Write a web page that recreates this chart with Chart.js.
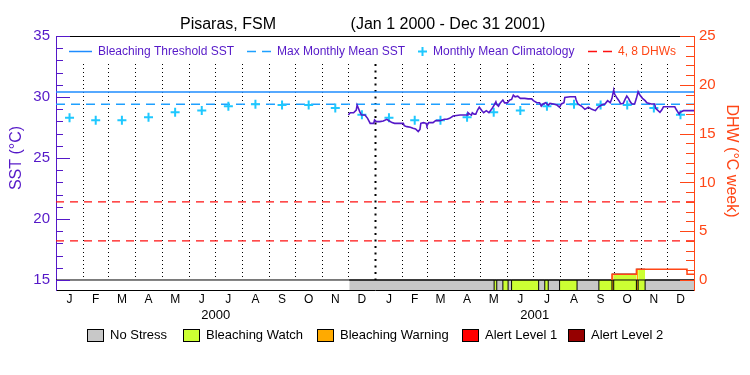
<!DOCTYPE html>
<html>
<head>
<meta charset="utf-8">
<script src="https://cdn.jsdelivr.net/npm/chart.js@4.4.0/dist/chart.umd.min.js"></script>
<style>
  html, body { margin: 0; padding: 0; background: #fff; }
</style>
</head>
<body>
<canvas id="grafico" width="750" height="375"></canvas>
<script>
//INICIO datos del gráfico
var meses = ['J', 'F', 'M', 'A', 'M', 'J', 'J', 'A', 'S', 'O', 'N', 'D'];
var anios = ['2000', '2001'];
var sstTicks = [15, 20, 25, 30, 35];
var dhwTicks = [0, 5, 10, 15, 20, 25];

// climatología mensual (°C), igual para los dos años
var climatologia = [28.3, 28.1, 28.1, 28.35, 28.75, 28.9, 29.25, 29.4, 29.35, 29.35, 29.1, 28.55];
var mmm = 29.4;      // Max Monthly Mean SST
var umbral = 30.4;   // Bleaching Threshold SST
var lineasDhw = [4, 8];

// SST satelital: días desde el 1 ene 2000
var sstDias = [
  335, 337, 341, 344, 345, 348, 350, 354, 357, 360,
  364, 365, 367, 371, 375, 379, 382, 385, 388, 398,
  399, 402, 406, 409, 412, 415, 417, 418, 421, 424,
  425, 427, 432, 435, 440, 445, 448, 451, 455, 463,
  471, 472, 474, 476, 477, 479, 481, 483, 485, 488,
  490, 493, 496, 499, 502, 504, 505, 507, 509, 512,
  514, 517, 520, 522, 524, 526, 529, 532, 535, 537,
  541, 545, 547, 551, 554, 556, 558, 561, 564, 566,
  570, 574, 577, 579, 582, 583, 589, 595, 596, 598,
  602, 606, 610, 614, 618, 621, 625, 629, 632, 635,
  637, 639, 640, 643, 645, 647, 650, 652, 654, 656,
  658, 660, 663, 665, 667, 669, 672, 675, 677, 682,
  686, 687, 692, 694, 696, 709, 711, 714, 715, 719,
  731
];
var sstValores = [
  28.52, 28.71, 28.71, 28.93, 29.34, 28.80, 28.52, 28.52, 28.25, 27.84,
  27.84, 28.11, 27.98, 27.98, 28.03, 28.17, 28.03, 27.90, 27.84, 27.84,
  27.65, 27.57, 27.52, 27.43, 27.38, 27.16, 27.35, 27.84, 27.90, 27.84,
  27.65, 27.90, 27.90, 28.06, 28.06, 28.17, 28.17, 28.25, 28.44, 28.52,
  28.52, 28.71, 28.60, 28.52, 28.71, 28.60, 28.60, 28.93, 29.16, 28.88,
  28.71, 28.88, 28.71, 28.99, 29.34, 29.61, 29.39, 29.25, 29.52, 29.75,
  29.52, 29.52, 29.75, 29.80, 30.16, 30.02, 30.07, 29.89, 29.90, 29.89,
  29.85, 29.85, 29.70, 29.53, 29.53, 29.26, 29.43, 29.53, 29.34, 29.48,
  29.43, 29.34, 29.16, 29.43, 29.53, 29.97, 30.02, 30.02, 29.75, 29.43,
  29.26, 28.99, 29.16, 28.99, 28.88, 29.16, 29.34, 29.43, 29.70, 29.53,
  29.89, 30.57, 30.24, 29.89, 29.70, 29.43, 29.48, 29.80, 30.08, 29.89,
  29.61, 29.43, 29.43, 29.89, 30.43, 30.16, 29.89, 29.70, 29.53, 29.43,
  29.43, 29.07, 28.75, 28.93, 29.20, 29.20, 28.93, 28.60, 28.75, 28.88,
  28.88
];

// DHW (°C semana), escalonado; antes del primer día vale 0
var dhwDias = [637, 665, 723];
var dhwValores = [0.6, 1.1, 0.6];

// franja de estrés: día de inicio y nivel de cada tramo
var estresInicio = [336, 502, 505, 512, 518, 522, 553, 560, 564, 577, 597, 622, 637, 639, 665, 667, 675];
var estresNivel = [0, 1, 0, 1, 0, 1, 0, 1, 0, 1, 0, 1, 2, 1, 2, 1, 0];
var nivelesNombre = ['No Stress', 'Bleaching Watch', 'Bleaching Warning', 'Alert Level 1', 'Alert Level 2'];
//FIN datos del gráfico

var fin = 731;
var sstMin = 14.18;   // deja sitio a la franja bajo los 15 °C
var dhwMin = -1.025;
var colorSst = '#5518c8';
var colorDhw = '#ff4616';
var fuente = '"Liberation Sans", Arial, sans-serif';
var nivelesColor = ['#c8c8c8', '#ccff33', '#ffaa00', '#ff0000', '#960000'];

// inicio de cada mes (días desde el 1 ene 2000)
var inicioMes = [];
for (var a = 2000; a <= 2001; a++) {
  for (var m = 0; m < 12; m++) {
    inicioMes.push((Date.UTC(a, m, 1) - Date.UTC(2000, 0, 1)) / 864e5);
  }
}
inicioMes.push(fin);
var mitadMes = [];
for (var k = 0; k < 24; k++) mitadMes.push((inicioMes[k] + inicioMes[k + 1]) / 2);

function dhwEn(dia) {
  var v = 0;
  for (var i = 0; i < dhwDias.length; i++) if (dhwDias[i] <= dia) v = dhwValores[i];
  return v;
}

// tramos de la franja, un dataset por nivel
var datasetsEstres = nivelesNombre.map(function (nombre, nivel) {
  var puntos = [];
  estresInicio.forEach(function (ini, i) {
    if (estresNivel[i] !== nivel) return;
    var fn = i + 1 < estresInicio.length ? estresInicio[i + 1] : fin;
    var alto = nivel > 0 ? dhwEn(ini) : 0;
    puntos.push({ x: ini, y: alto }, { x: fn, y: alto }, { x: fn, y: null });
  });
  return {
    label: nombre, data: puntos, yAxisID: 'y2',
    backgroundColor: nivelesColor[nivel], borderColor: '#000', borderWidth: 1,
    pointRadius: 0, fill: 'start', spanGaps: false, order: 10 + nivel,
  };
});

var separadores = [];
estresInicio.slice(1).forEach(function (d) {
  separadores.push({ x: d, y: dhwMin }, { x: d, y: 0 }, { x: d, y: null });
});

var puntosDhw = [{ x: dhwDias[0], y: 0 }];
dhwDias.forEach(function (d, i) {
  var sig = i + 1 < dhwDias.length ? dhwDias[i + 1] : fin;
  puntosDhw.push({ x: d, y: dhwValores[i] }, { x: sig, y: dhwValores[i] });
});

var puntosClima = mitadMes.map(function (d, i) {
  return { x: d, y: climatologia[i % 12] };
});

var datasets = datasetsEstres.concat([
  {
    label: 'base', data: [{ x: 0, y: 0 }, { x: fin, y: 0 }], yAxisID: 'y2',
    borderColor: '#000', borderWidth: 1, pointRadius: 0, order: 5,
  },
  {
    label: 'sep', data: separadores, yAxisID: 'y2', spanGaps: false,
    borderColor: '#000', borderWidth: 1, pointRadius: 0, order: 4,
  },
  {
    label: 'Bleaching Threshold SST', data: [{ x: 0, y: umbral }, { x: fin, y: umbral }], yAxisID: 'y',
    borderColor: '#1e8cff', borderWidth: 1.5, pointRadius: 0, order: 3,
  },
  {
    label: 'Max Monthly Mean SST', data: [{ x: 0, y: mmm }, { x: fin, y: mmm }], yAxisID: 'y',
    borderColor: '#1ea0ff', borderWidth: 1.5, borderDash: [9, 6], pointRadius: 0, order: 3,
  },
  {
    label: 'Monthly Mean Climatology', data: puntosClima, yAxisID: 'y', showLine: false,
    pointStyle: 'cross', pointRadius: 4.5, borderColor: '#1ec8ff', pointBorderWidth: 2, order: 2,
  },
  {
    label: 'SST', data: sstDias.map(function (d, i) { return { x: d, y: sstValores[i] }; }), yAxisID: 'y',
    borderColor: colorSst, borderWidth: 1.6, pointRadius: 0, order: 1,
  },
  {
    label: 'DHW', data: puntosDhw, yAxisID: 'y2',
    borderColor: colorDhw, borderWidth: 1.5, pointRadius: 0, order: 0,
  },
]);
lineasDhw.forEach(function (v) {
  datasets.push({
    label: 'DHW ' + v, data: [{ x: 0, y: v }, { x: fin, y: v }], yAxisID: 'y2',
    borderColor: '#ff1010', borderWidth: 1.2, borderDash: [8, 6], pointRadius: 0, order: 3,
  });
});

//INICIO plugin de adornos (líneas punteadas, marcas interiores, leyendas, títulos)
var adornos = {
  id: 'adornos',
  beforeDatasetsDraw: function (chart) {
    var ctx = chart.ctx, area = chart.chartArea, sx = chart.scales.x;
    var base = chart.scales.y2.getPixelForValue(0);
    ctx.save();
    ctx.strokeStyle = '#000';
    inicioMes.forEach(function (d) {
      if (d <= 0 || d >= fin) return;
      var px = Math.round(sx.getPixelForValue(d)) + 0.5;
      var grueso = d === 366;
      ctx.lineWidth = grueso ? 2 : 1;
      ctx.setLineDash(grueso ? [2, 4.5] : [1, 3]);
      ctx.beginPath();
      ctx.moveTo(px, area.top + 28);
      ctx.lineTo(px, base);
      ctx.stroke();
    });
    ctx.restore();
  },
  afterDraw: function (chart) {
    var ctx = chart.ctx, area = chart.chartArea;
    var ys = chart.scales.y, yd = chart.scales.y2;
    ctx.save();
    // borde superior
    ctx.strokeStyle = '#000';
    ctx.lineWidth = 1;
    ctx.beginPath();
    ctx.moveTo(area.left, area.top + 0.5);
    ctx.lineTo(area.right, area.top + 0.5);
    ctx.stroke();

    // marcas hacia dentro
    ctx.strokeStyle = colorSst;
    ys.ticks.forEach(function (t) {
      var py = Math.round(ys.getPixelForValue(t.value)) + 0.5;
      var largo = t.value % 5 === 0 ? 14 : 7;
      ctx.beginPath(); ctx.moveTo(area.left, py); ctx.lineTo(area.left + largo, py); ctx.stroke();
    });
    ctx.strokeStyle = colorDhw;
    yd.ticks.forEach(function (t) {
      var py = Math.round(yd.getPixelForValue(t.value)) + 0.5;
      var largo = t.value % 5 === 0 ? 14 : 8;
      ctx.beginPath(); ctx.moveTo(area.right, py); ctx.lineTo(area.right - largo, py); ctx.stroke();
    });

    // título
    ctx.fillStyle = '#000';
    ctx.font = '16px ' + fuente;
    ctx.textAlign = 'center';
    ctx.textBaseline = 'alphabetic';
    ctx.fillText('Pisaras, FSM', 228, 29);
    ctx.fillText('(Jan 1 2000 - Dec 31 2001)', 448, 29);

    // leyenda superior
    var ly = area.top + 15.5;
    var x0 = area.left;
    ctx.lineWidth = 1.5;
    ctx.strokeStyle = '#1e8cff';
    ctx.beginPath(); ctx.moveTo(x0 + 13, ly); ctx.lineTo(x0 + 36, ly); ctx.stroke();
    ctx.strokeStyle = '#1ea0ff';
    ctx.setLineDash([9, 6]);
    ctx.beginPath(); ctx.moveTo(x0 + 191, ly); ctx.lineTo(x0 + 216, ly); ctx.stroke();
    ctx.strokeStyle = '#ff1010';
    ctx.beginPath(); ctx.moveTo(x0 + 532, ly); ctx.lineTo(x0 + 557, ly); ctx.stroke();
    ctx.setLineDash([]);
    ctx.strokeStyle = '#1ec8ff';
    ctx.lineWidth = 2;
    ctx.beginPath();
    ctx.moveTo(x0 + 362, ly); ctx.lineTo(x0 + 371, ly);
    ctx.moveTo(x0 + 366.5, ly - 4.5); ctx.lineTo(x0 + 366.5, ly + 4.5);
    ctx.stroke();

    ctx.font = '12px ' + fuente;
    ctx.textAlign = 'left';
    ctx.textBaseline = 'middle';
    ctx.fillStyle = colorSst;
    ctx.fillText('Bleaching Threshold SST', x0 + 42, ly);
    ctx.fillText('Max Monthly Mean SST', x0 + 221, ly);
    ctx.fillText('Monthly Mean Climatology', x0 + 377, ly);
    ctx.fillStyle = colorDhw;
    ctx.fillText('4, 8 DHWs', x0 + 562, ly);

    // leyenda inferior de niveles de estrés
    var cajasX = [87, 183, 317, 462, 568];
    var by = area.bottom + 39;
    ctx.font = '13px ' + fuente;
    ctx.lineWidth = 1;
    ctx.strokeStyle = '#000';
    nivelesNombre.forEach(function (nombre, i) {
      ctx.fillStyle = nivelesColor[i];
      ctx.fillRect(cajasX[i], by, 16, 12);
      ctx.strokeRect(cajasX[i] + 0.5, by + 0.5, 16, 12);
      ctx.fillStyle = '#000';
      ctx.fillText(nombre, cajasX[i] + 23, by + 6.5);
    });

    // títulos de ejes
    var centro = (ys.getPixelForValue(15) + ys.getPixelForValue(35)) / 2;
    ctx.font = '16px ' + fuente;
    ctx.textAlign = 'center';
    ctx.fillStyle = colorSst;
    ctx.save();
    ctx.translate(17, centro);
    ctx.rotate(-Math.PI / 2);
    ctx.fillText('SST (°C)', 0, 0);
    ctx.restore();
    ctx.fillStyle = colorDhw;
    ctx.save();
    ctx.translate(731, centro + 3);
    ctx.rotate(Math.PI / 2);
    ctx.fillText('DHW (°C week)', 0, 0);
    ctx.restore();
    ctx.restore();
  },
};
//FIN plugin de adornos

var ctx = document.getElementById('grafico').getContext('2d');
var grafico = new Chart(ctx, {
  type: 'line',
  data: { datasets: datasets },
  plugins: [adornos],
  options: {
    responsive: false,
    animation: false,
    devicePixelRatio: 1,
    layout: { padding: { top: 36, bottom: 49 } },
    plugins: {
      title: { display: false },
      tooltip: { enabled: false },
      legend: { display: false },
    },
    scales: {
      x: {
        type: 'linear', position: 'bottom', min: 0, max: fin, weight: 0,
        grid: { display: false, drawTicks: false },
        border: { display: true, color: '#000', width: 1 },
        afterBuildTicks: function (escala) {
          escala.ticks = mitadMes.map(function (d) { return { value: d }; });
        },
        afterFit: function (escala) { escala.height = 16; },
        ticks: {
          autoSkip: false, maxRotation: 0, padding: 2, color: '#000',
          font: { family: fuente, size: 12 },
          callback: function (v, i) { return meses[i % 12]; },
        },
      },
      xAnio: {
        axis: 'x', type: 'linear', position: 'bottom', min: 0, max: fin, weight: 1,
        grid: { display: false, drawTicks: false },
        border: { display: false },
        afterBuildTicks: function (escala) {
          escala.ticks = [0, 1].map(function (i) {
            return { value: (inicioMes[i * 12] + inicioMes[i * 12 + 12]) / 2 };
          });
        },
        afterFit: function (escala) { escala.height = 20; },
        ticks: {
          autoSkip: false, maxRotation: 0, padding: 2, color: '#000',
          font: { family: fuente, size: 13 },
          callback: function (v, i) { return anios[i]; },
        },
      },
      y: {
        type: 'linear', position: 'left', min: sstMin, max: 35,
        grid: { display: false, drawTicks: false },
        border: { display: true, color: colorSst, width: 1 },
        afterBuildTicks: function (escala) {
          var t = [];
          for (var v = sstTicks[0]; v <= sstTicks[sstTicks.length - 1]; v++) t.push({ value: v });
          escala.ticks = t;
        },
        afterFit: function (escala) { escala.width = 56; },
        ticks: {
          autoSkip: false, padding: 6, color: colorSst, font: { family: fuente, size: 15 },
          callback: function (v) { return sstTicks.indexOf(v) >= 0 ? String(v) : ''; },
        },
      },
      y2: {
        type: 'linear', position: 'right', min: dhwMin, max: 25,
        grid: { display: false, drawTicks: false },
        border: { display: true, color: colorDhw, width: 1 },
        afterBuildTicks: function (escala) {
          var t = [];
          for (var v = dhwTicks[0]; v <= dhwTicks[dhwTicks.length - 1]; v++) t.push({ value: v });
          escala.ticks = t;
        },
        afterFit: function (escala) { escala.width = 56; },
        ticks: {
          autoSkip: false, padding: 5, color: colorDhw, font: { family: fuente, size: 15 },
          callback: function (v) { return dhwTicks.indexOf(v) >= 0 ? String(v) : ''; },
        },
      },
    },
  },
});
</script>
</body>
</html>
